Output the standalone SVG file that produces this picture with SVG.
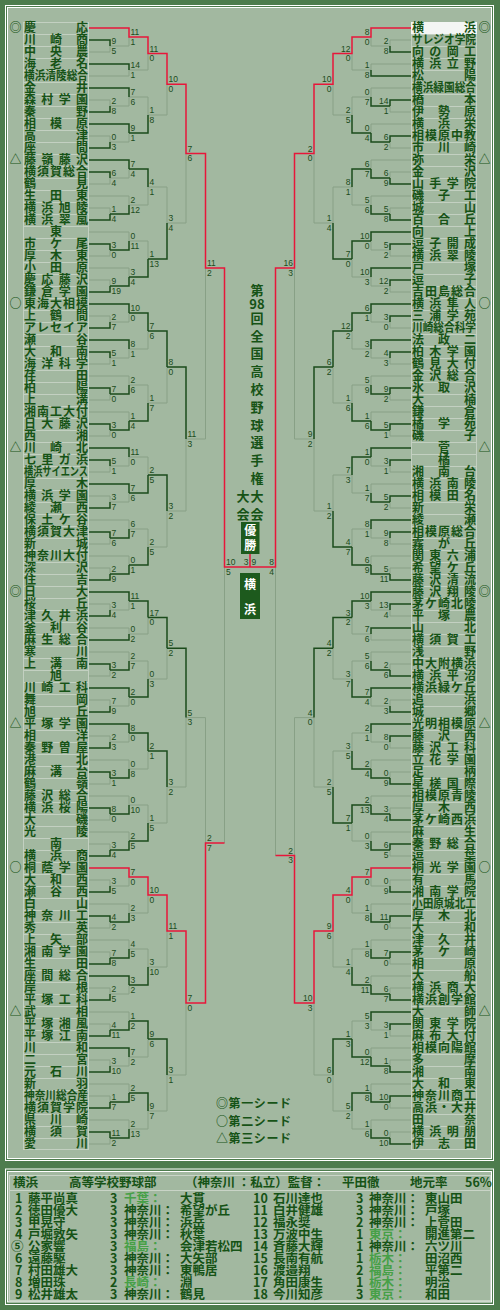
<svg xmlns="http://www.w3.org/2000/svg" width="500" height="1310" viewBox="0 0 500 1310">
<style>
.n{font:bold 12px "Noto Sans CJK JP",sans-serif;fill:#165316}
.c{text-anchor:middle}
.m{font:bold 12px "Noto Sans CJK JP",sans-serif;fill:#165316;text-anchor:middle}
.s{font:8.5px "Liberation Sans",sans-serif;fill:#1b4b1b}
.e{text-anchor:end}
.d{fill:none;stroke:#1b4b1b;stroke-width:1.5}
.g{fill:none;stroke:#88a086;stroke-width:1}
.r{fill:none;stroke:#e8163a;stroke-width:1.5}
.t{font:bold 12.5px "Noto Sans CJK JP",sans-serif;fill:#165316}
.h{fill:#47a047}
.w{font:bold 12px "Noto Sans CJK JP",sans-serif;fill:#ffffff;text-anchor:middle}
.k{font:bold 13px "Noto Sans CJK JP",sans-serif;fill:#165316;text-anchor:middle}
</style>
<defs>
<pattern id="rw" patternUnits="userSpaceOnUse" x="0" y="22" width="500" height="12"><path d="M0 0.5H500" stroke="#c3d0c1" stroke-width="1"/></pattern>
</defs>
<rect width="500" height="1310" fill="#4d7c4d"/>
<rect x="8" y="8" width="483.5" height="1150.5" fill="#a2b8a0"/>
<rect x="5.5" y="5.5" width="488" height="1155" fill="none" stroke="#ffffff"/>
<rect x="7.5" y="7.5" width="484" height="1151" fill="none" stroke="#ffffff"/>
<rect x="8" y="1172" width="483.5" height="130" fill="#a2b8a0"/>
<rect x="5.5" y="1169" width="488" height="135.5" fill="none" stroke="#ffffff"/>
<rect x="7.5" y="1171.5" width="484" height="130.5" fill="none" stroke="#ffffff"/>
<rect x="9.5" y="1175.5" width="481" height="125" fill="none" stroke="#c9d4c7"/>
<path d="M9.5 1190.5H490.5" stroke="#c9d4c7"/>

<rect x="23.5" y="22.5" width="65" height="1127" fill="url(#rw)" stroke="#c3d0c1"/>
<rect x="411.5" y="22.5" width="65" height="1127" fill="url(#rw)" stroke="#c3d0c1"/>

<g id="connectors">
<path class="g" d="M89 52H110V46M89 100H110V106M89 136H110V142M110 46H129V37M89 76H129V70M110 106H129V97M110 142H129V133M129 70H148V53.5M129 97H148V115M148 115H167V84.25M167 223H186V153.6M89 184H110V178M89 208H110V214M89 256H110V250M89 280H110V286M110 178H129V169M89 196H129V205M89 232H129V241M89 268H129V277M129 205H148V187M129 241H148V259M148 187H167V223M89 316H110V322M89 364H110V358M89 400H110V394M89 436H110V430M110 322H129V313M110 358H129V349M89 376H129V385M89 412H129V421M129 349H148V331M129 385H148V403M148 403H167V367M89 472H110V466M89 496H110V502M89 544H110V538M89 568H110V574M110 466H129V457M110 502H129V493M89 520H129V529M89 556H129V565M129 457H148V475M129 529H148V547M148 547H167V511M167 511H186V439M186 439H205.5V268M224.5 843V567M89 604H110V610M89 676H110V670M89 700H110V706M110 610H129V601M89 628H129V634M89 652H129V661M110 706H129V697M129 634H148V617.5M129 661H148V679M148 679H167V648.25M89 736H110V742M89 784H110V778M89 820H110V814M89 844H110V850M110 742H129V733M89 760H129V769M89 796H129V805M89 832H129V841M129 769H148V751M129 805H148V823M148 823H167V787M167 787H186V717.6M186 717.6H205.5V843M89 880H110V886M89 928H110V922M89 952H110V958M89 988H110V994M110 886H129V877M89 904H129V913M89 940H129V949M110 994H129V985M129 913H148V895M129 949H148V967M148 967H167V931M89 1024H110V1030M89 1060H110V1066M89 1096H110V1102M89 1144H110V1138M89 1012H129V1021M110 1066H129V1057M89 1084H129V1093M89 1120H129V1129M129 1057H148V1039M129 1129H148V1111M148 1111H167V1075M167 1075H186V1003"/>
<path class="d" d="M89 40H110V46M89 112H110V106M89 148H110V142M89 64H129V70M89 88H129V97M89 124H129V133M129 133H148V115M89 172H110V178M89 220H110V214M89 244H110V250M89 292H110V286M89 160H129V169M110 214H129V205M110 250H129V241M110 286H129V277M129 169H148V187M129 277H148V259M148 259H167V223M89 328H110V322M89 352H110V358M89 388H110V394M89 424H110V430M89 304H129V313M89 340H129V349M110 394H129V385M110 430H129V421M129 313H148V331M129 421H148V403M148 331H167V367M89 460H110V466M89 508H110V502M89 532H110V538M89 580H110V574M89 448H129V457M89 484H129V493M110 538H129V529M110 574H129V565M129 493H148V475M129 565H148V547M148 475H167V511M167 367H186V439M89 616H110V610M89 664H110V670M89 712H110V706M89 592H129V601M89 640H129V634M110 670H129V661M89 688H129V697M129 601H148V617.5M129 697H148V679M148 617.5H167V648.25M89 748H110V742M89 772H110V778M89 808H110V814M89 856H110V850M89 724H129V733M110 778H129V769M110 814H129V805M110 850H129V841M129 733H148V751M129 841H148V823M148 751H167V787M167 648.25H186V717.6M89 892H110V886M89 916H110V922M89 964H110V958M89 1000H110V994M110 922H129V913M110 958H129V949M89 976H129V985M129 985H148V967M89 1036H110V1030M89 1072H110V1066M89 1108H110V1102M89 1132H110V1138M110 1030H129V1021M89 1048H129V1057M110 1102H129V1093M110 1138H129V1129M129 1021H148V1039M129 1093H148V1111M148 1039H167V1075"/>
<path class="r" d="M89 28H129V37H148V53.5H167V84.25H186V153.6H205.5V268H224.5V567H250M89 868H129V877H148V895H167V931H186V1003H205.5V843H224.5M250 567V554"/>
<g transform="matrix(-1 0 0 1 500 0)">
<path class="g" d="M89 40H110V46M89 112H110V106M89 148H110V142M110 46H129V37M89 64H129V70M89 88H129V97M89 124H129V133M129 70H148V53.5M129 97H148V115M148 115H167V84.25M167 223H186V153.6M89 172H110V178M89 208H110V214M89 256H110V250M89 292H110V286M89 160H129V169M89 196H129V205M110 250H129V241M110 286H129V277M129 205H148V187M129 277H148V259M148 187H167V223M89 328H110V322M89 364H110V358M89 400H110V394M89 436H110V430M110 322H129V313M110 358H129V349M89 376H129V385M89 412H129V421M129 349H148V331M129 385H148V403M148 403H167V367M89 472H110V466M89 508H110V502M89 544H110V538M89 568H110V574M110 466H129V457M89 484H129V493M110 538H129V529M89 556H129V565M129 493H148V475M129 529H148V547M148 475H167V511M167 511H186V439M186 439H205.5V268M224.5 855.6V567M89 616H110V610M89 664H110V670M89 700H110V706M110 610H129V601M89 640H129V634M89 652H129V661M110 706H129V697M129 634H148V617.5M129 661H148V679M148 679H167V648.25M89 748H110V742M89 772H110V778M89 808H110V814M89 856H110V850M110 742H129V733M89 760H129V769M89 796H129V805M89 832H129V841M129 733H148V751M129 841H148V823M148 751H167V787M167 787H186V717.6M186 717.6H205.5V855.6M89 880H110V886M89 928H110V922M89 964H110V958M89 988H110V994M110 886H129V877M89 904H129V913M89 940H129V949M89 976H129V985M129 913H148V895M129 949H148V967M148 967H167V931M89 1036H110V1030M89 1060H110V1066M89 1108H110V1102M89 1132H110V1138M110 1030H129V1021M89 1048H129V1057M89 1084H129V1093M89 1120H129V1129M129 1021H148V1039M129 1129H148V1111M148 1111H167V1075M167 1075H186V1003"/>
<path class="d" d="M89 52H110V46M89 100H110V106M89 136H110V142M89 76H129V70M110 106H129V97M110 142H129V133M129 133H148V115M89 184H110V178M89 220H110V214M89 244H110V250M89 280H110V286M110 178H129V169M110 214H129V205M89 232H129V241M89 268H129V277M129 169H148V187M129 241H148V259M148 259H167V223M89 316H110V322M89 352H110V358M89 388H110V394M89 424H110V430M89 304H129V313M89 340H129V349M110 394H129V385M110 430H129V421M129 313H148V331M129 421H148V403M148 331H167V367M89 460H110V466M89 496H110V502M89 532H110V538M89 580H110V574M89 448H129V457M110 502H129V493M89 520H129V529M110 574H129V565M129 457H148V475M129 565H148V547M148 547H167V511M167 367H186V439M89 604H110V610M89 676H110V670M89 712H110V706M89 592H129V601M89 628H129V634M110 670H129V661M89 688H129V697M129 601H148V617.5M129 697H148V679M148 617.5H167V648.25M89 736H110V742M89 784H110V778M89 820H110V814M89 844H110V850M89 724H129V733M110 778H129V769M110 814H129V805M110 850H129V841M129 769H148V751M129 805H148V823M148 823H167V787M167 648.25H186V717.6M89 892H110V886M89 916H110V922M89 952H110V958M89 1000H110V994M110 922H129V913M110 958H129V949M110 994H129V985M129 985H148V967M89 1024H110V1030M89 1072H110V1066M89 1096H110V1102M89 1144H110V1138M89 1012H129V1021M110 1066H129V1057M110 1102H129V1093M110 1138H129V1129M129 1057H148V1039M129 1093H148V1111M148 1039H167V1075"/>
<path class="r" d="M89 28H129V37H148V53.5H167V84.25H186V153.6H205.5V268H224.5V567H250M89 868H129V877H148V895H167V931H186V1003H205.5V855.6H224.5"/>
</g>
</g>

<g id="scores-left">
<text class="s"><tspan x="111.5" y="44">9</tspan><tspan x="111.5" y="53.5">5</tspan><tspan x="111.5" y="104">2</tspan><tspan x="111.5" y="113.5">8</tspan><tspan x="111.5" y="140">0</tspan><tspan x="111.5" y="149.5">3</tspan><tspan x="111.5" y="176">6</tspan><tspan x="111.5" y="185.5">4</tspan><tspan x="111.5" y="212">1</tspan><tspan x="111.5" y="221.5">4</tspan><tspan x="111.5" y="248">3</tspan><tspan x="111.5" y="257.5">0</tspan><tspan x="111.5" y="284">9</tspan><tspan x="111.5" y="293.5">19</tspan><tspan x="111.5" y="320">2</tspan><tspan x="111.5" y="329.5">7</tspan><tspan x="111.5" y="356">5</tspan><tspan x="111.5" y="365.5">1</tspan><tspan x="111.5" y="392">7</tspan><tspan x="111.5" y="401.5">0</tspan><tspan x="111.5" y="428">3</tspan><tspan x="111.5" y="437.5">0</tspan><tspan x="111.5" y="464">5</tspan><tspan x="111.5" y="473.5">1</tspan><tspan x="111.5" y="500">3</tspan><tspan x="111.5" y="509.5">7</tspan><tspan x="111.5" y="536">7</tspan><tspan x="111.5" y="545.5">6</tspan><tspan x="111.5" y="572">2</tspan><tspan x="111.5" y="581.5">9</tspan><tspan x="111.5" y="608">3</tspan><tspan x="111.5" y="617.5">4</tspan><tspan x="111.5" y="668">3</tspan><tspan x="111.5" y="677.5">2</tspan><tspan x="111.5" y="704">7</tspan><tspan x="111.5" y="713.5">9</tspan><tspan x="111.5" y="740">2</tspan><tspan x="111.5" y="749.5">3</tspan><tspan x="111.5" y="776">3</tspan><tspan x="111.5" y="785.5">1</tspan><tspan x="111.5" y="812">8</tspan><tspan x="111.5" y="821.5">0</tspan><tspan x="111.5" y="848">3</tspan><tspan x="111.5" y="857.5">4</tspan><tspan x="111.5" y="884">3</tspan><tspan x="111.5" y="893.5">5</tspan><tspan x="111.5" y="920">4</tspan><tspan x="111.5" y="929.5">2</tspan><tspan x="111.5" y="956">7</tspan><tspan x="111.5" y="965.5">8</tspan><tspan x="111.5" y="992">2</tspan><tspan x="111.5" y="1001.5">5</tspan><tspan x="111.5" y="1028">4</tspan><tspan x="111.5" y="1037.5">11</tspan><tspan x="111.5" y="1064">3</tspan><tspan x="111.5" y="1073.5">10</tspan><tspan x="111.5" y="1100">1</tspan><tspan x="111.5" y="1109.5">7</tspan><tspan x="111.5" y="1136">11</tspan><tspan x="111.5" y="1145.5">2</tspan></text>
<text class="s"><tspan x="130.5" y="35">11</tspan><tspan x="130.5" y="44.5">1</tspan><tspan x="130.5" y="68">14</tspan><tspan x="130.5" y="77.5">1</tspan><tspan x="130.5" y="95">7</tspan><tspan x="130.5" y="104.5">6</tspan><tspan x="130.5" y="131">9</tspan><tspan x="130.5" y="140.5">1</tspan><tspan x="130.5" y="167">7</tspan><tspan x="130.5" y="176.5">4</tspan><tspan x="130.5" y="203">2</tspan><tspan x="130.5" y="212.5">12</tspan><tspan x="130.5" y="239">0</tspan><tspan x="130.5" y="248.5">11</tspan><tspan x="130.5" y="275">3</tspan><tspan x="130.5" y="284.5">4</tspan><tspan x="130.5" y="311">10</tspan><tspan x="130.5" y="320.5">0</tspan><tspan x="130.5" y="347">8</tspan><tspan x="130.5" y="356.5">1</tspan><tspan x="130.5" y="383">2</tspan><tspan x="130.5" y="392.5">6</tspan><tspan x="130.5" y="419">1</tspan><tspan x="130.5" y="428.5">4</tspan><tspan x="130.5" y="455">11</tspan><tspan x="130.5" y="464.5">0</tspan><tspan x="130.5" y="491">7</tspan><tspan x="130.5" y="500.5">6</tspan><tspan x="130.5" y="527">6</tspan><tspan x="130.5" y="536.5">7</tspan><tspan x="130.5" y="563">0</tspan><tspan x="130.5" y="572.5">1</tspan><tspan x="130.5" y="599">11</tspan><tspan x="130.5" y="608.5">1</tspan><tspan x="130.5" y="632">0</tspan><tspan x="130.5" y="641.5">2</tspan><tspan x="130.5" y="659">2</tspan><tspan x="130.5" y="668.5">7</tspan><tspan x="130.5" y="695">2</tspan><tspan x="130.5" y="704.5">0</tspan><tspan x="130.5" y="731">8</tspan><tspan x="130.5" y="740.5">0</tspan><tspan x="130.5" y="767">0</tspan><tspan x="130.5" y="776.5">8</tspan><tspan x="130.5" y="803">0</tspan><tspan x="130.5" y="812.5">10</tspan><tspan x="130.5" y="839">2</tspan><tspan x="130.5" y="848.5">5</tspan><tspan x="130.5" y="875">7</tspan><tspan x="130.5" y="884.5">0</tspan><tspan x="130.5" y="911">2</tspan><tspan x="130.5" y="920.5">3</tspan><tspan x="130.5" y="947">4</tspan><tspan x="130.5" y="956.5">5</tspan><tspan x="130.5" y="983">3</tspan><tspan x="130.5" y="992.5">2</tspan><tspan x="130.5" y="1019">1</tspan><tspan x="130.5" y="1028.5">2</tspan><tspan x="130.5" y="1055">7</tspan><tspan x="130.5" y="1064.5">2</tspan><tspan x="130.5" y="1091">2</tspan><tspan x="130.5" y="1100.5">5</tspan><tspan x="130.5" y="1127">2</tspan><tspan x="130.5" y="1136.5">13</tspan></text>
<text class="s"><tspan x="149.5" y="51.5">11</tspan><tspan x="149.5" y="61">0</tspan><tspan x="149.5" y="113">1</tspan><tspan x="149.5" y="122.5">8</tspan><tspan x="149.5" y="185">4</tspan><tspan x="149.5" y="194.5">1</tspan><tspan x="149.5" y="257">1</tspan><tspan x="149.5" y="266.5">13</tspan><tspan x="149.5" y="329">7</tspan><tspan x="149.5" y="338.5">6</tspan><tspan x="149.5" y="401">1</tspan><tspan x="149.5" y="410.5">7</tspan><tspan x="149.5" y="473">2</tspan><tspan x="149.5" y="482.5">5</tspan><tspan x="149.5" y="545">2</tspan><tspan x="149.5" y="554.5">5</tspan><tspan x="149.5" y="615.5">17</tspan><tspan x="149.5" y="625">0</tspan><tspan x="149.5" y="677">0</tspan><tspan x="149.5" y="686.5">3</tspan><tspan x="149.5" y="749">2</tspan><tspan x="149.5" y="758.5">1</tspan><tspan x="149.5" y="821">1</tspan><tspan x="149.5" y="830.5">5</tspan><tspan x="149.5" y="893">10</tspan><tspan x="149.5" y="902.5">0</tspan><tspan x="149.5" y="965">3</tspan><tspan x="149.5" y="974.5">10</tspan><tspan x="149.5" y="1037">9</tspan><tspan x="149.5" y="1046.5">6</tspan><tspan x="149.5" y="1109">9</tspan><tspan x="149.5" y="1118.5">7</tspan></text>
<text class="s"><tspan x="168.5" y="82.25">10</tspan><tspan x="168.5" y="91.75">0</tspan><tspan x="168.5" y="221">3</tspan><tspan x="168.5" y="230.5">4</tspan><tspan x="168.5" y="365">8</tspan><tspan x="168.5" y="374.5">0</tspan><tspan x="168.5" y="509">3</tspan><tspan x="168.5" y="518.5">2</tspan><tspan x="168.5" y="646.25">5</tspan><tspan x="168.5" y="655.75">2</tspan><tspan x="168.5" y="785">3</tspan><tspan x="168.5" y="794.5">2</tspan><tspan x="168.5" y="929">11</tspan><tspan x="168.5" y="938.5">1</tspan><tspan x="168.5" y="1073">3</tspan><tspan x="168.5" y="1082.5">1</tspan></text>
<text class="s"><tspan x="187.5" y="151.6">7</tspan><tspan x="187.5" y="161.1">6</tspan><tspan x="187.5" y="437">11</tspan><tspan x="187.5" y="446.5">3</tspan><tspan x="187.5" y="715.6">5</tspan><tspan x="187.5" y="725.1">3</tspan><tspan x="187.5" y="1001">7</tspan><tspan x="187.5" y="1010.5">0</tspan><tspan x="207" y="266">11</tspan><tspan x="207" y="275.5">2</tspan><tspan x="207" y="841">2</tspan><tspan x="207" y="850.5">7</tspan><tspan x="226" y="565">10</tspan><tspan x="226" y="574.5">5</tspan><tspan x="251.5" y="565">9</tspan></text>
<text class="s e" x="248.5" y="565">3</text>
</g>

<g id="scores-right">
<text class="s e"><tspan x="388.5" y="44">2</tspan><tspan x="388.5" y="53.5">8</tspan><tspan x="388.5" y="104">14</tspan><tspan x="388.5" y="113.5">1</tspan><tspan x="388.5" y="140">6</tspan><tspan x="388.5" y="149.5">2</tspan><tspan x="388.5" y="176">6</tspan><tspan x="388.5" y="185.5">9</tspan><tspan x="388.5" y="212">5</tspan><tspan x="388.5" y="221.5">8</tspan><tspan x="388.5" y="248">5</tspan><tspan x="388.5" y="257.5">2</tspan><tspan x="388.5" y="284">12</tspan><tspan x="388.5" y="293.5">2</tspan><tspan x="388.5" y="320">3</tspan><tspan x="388.5" y="329.5">0</tspan><tspan x="388.5" y="356">4</tspan><tspan x="388.5" y="365.5">3</tspan><tspan x="388.5" y="392">9</tspan><tspan x="388.5" y="401.5">2</tspan><tspan x="388.5" y="428">5</tspan><tspan x="388.5" y="437.5">1</tspan><tspan x="388.5" y="464">3</tspan><tspan x="388.5" y="473.5">1</tspan><tspan x="388.5" y="500">5</tspan><tspan x="388.5" y="509.5">2</tspan><tspan x="388.5" y="536">9</tspan><tspan x="388.5" y="545.5">8</tspan><tspan x="388.5" y="572">5</tspan><tspan x="388.5" y="581.5">11</tspan><tspan x="388.5" y="608">13</tspan><tspan x="388.5" y="617.5">4</tspan><tspan x="388.5" y="668">2</tspan><tspan x="388.5" y="677.5">6</tspan><tspan x="388.5" y="704">2</tspan><tspan x="388.5" y="713.5">3</tspan><tspan x="388.5" y="740">8</tspan><tspan x="388.5" y="749.5">0</tspan><tspan x="388.5" y="776">0</tspan><tspan x="388.5" y="785.5">9</tspan><tspan x="388.5" y="812">3</tspan><tspan x="388.5" y="821.5">4</tspan><tspan x="388.5" y="848">6</tspan><tspan x="388.5" y="857.5">5</tspan><tspan x="388.5" y="884">0</tspan><tspan x="388.5" y="893.5">9</tspan><tspan x="388.5" y="920">11</tspan><tspan x="388.5" y="929.5">0</tspan><tspan x="388.5" y="956">7</tspan><tspan x="388.5" y="965.5">0</tspan><tspan x="388.5" y="992">6</tspan><tspan x="388.5" y="1001.5">7</tspan><tspan x="388.5" y="1028">3</tspan><tspan x="388.5" y="1037.5">1</tspan><tspan x="388.5" y="1064">1</tspan><tspan x="388.5" y="1073.5">8</tspan><tspan x="388.5" y="1100">10</tspan><tspan x="388.5" y="1109.5">0</tspan><tspan x="388.5" y="1136">0</tspan><tspan x="388.5" y="1145.5">10</tspan></text>
<text class="s e"><tspan x="369.5" y="35">8</tspan><tspan x="369.5" y="44.5">0</tspan><tspan x="369.5" y="68">1</tspan><tspan x="369.5" y="77.5">8</tspan><tspan x="369.5" y="95">0</tspan><tspan x="369.5" y="104.5">7</tspan><tspan x="369.5" y="131">0</tspan><tspan x="369.5" y="140.5">4</tspan><tspan x="369.5" y="167">6</tspan><tspan x="369.5" y="176.5">7</tspan><tspan x="369.5" y="203">5</tspan><tspan x="369.5" y="212.5">6</tspan><tspan x="369.5" y="239">10</tspan><tspan x="369.5" y="248.5">0</tspan><tspan x="369.5" y="275">10</tspan><tspan x="369.5" y="284.5">3</tspan><tspan x="369.5" y="311">6</tspan><tspan x="369.5" y="320.5">1</tspan><tspan x="369.5" y="347">3</tspan><tspan x="369.5" y="356.5">2</tspan><tspan x="369.5" y="383">5</tspan><tspan x="369.5" y="392.5">9</tspan><tspan x="369.5" y="419">1</tspan><tspan x="369.5" y="428.5">6</tspan><tspan x="369.5" y="455">1</tspan><tspan x="369.5" y="464.5">0</tspan><tspan x="369.5" y="491">1</tspan><tspan x="369.5" y="500.5">7</tspan><tspan x="369.5" y="527">8</tspan><tspan x="369.5" y="536.5">1</tspan><tspan x="369.5" y="563">6</tspan><tspan x="369.5" y="572.5">9</tspan><tspan x="369.5" y="599">10</tspan><tspan x="369.5" y="608.5">3</tspan><tspan x="369.5" y="632">7</tspan><tspan x="369.5" y="641.5">6</tspan><tspan x="369.5" y="659">5</tspan><tspan x="369.5" y="668.5">6</tspan><tspan x="369.5" y="695">7</tspan><tspan x="369.5" y="704.5">4</tspan><tspan x="369.5" y="731">2</tspan><tspan x="369.5" y="740.5">1</tspan><tspan x="369.5" y="767">2</tspan><tspan x="369.5" y="776.5">4</tspan><tspan x="369.5" y="803">2</tspan><tspan x="369.5" y="812.5">13</tspan><tspan x="369.5" y="839">0</tspan><tspan x="369.5" y="848.5">3</tspan><tspan x="369.5" y="875">7</tspan><tspan x="369.5" y="884.5">0</tspan><tspan x="369.5" y="911">1</tspan><tspan x="369.5" y="920.5">8</tspan><tspan x="369.5" y="947">1</tspan><tspan x="369.5" y="956.5">8</tspan><tspan x="369.5" y="983">2</tspan><tspan x="369.5" y="992.5">11</tspan><tspan x="369.5" y="1019">5</tspan><tspan x="369.5" y="1028.5">3</tspan><tspan x="369.5" y="1055">0</tspan><tspan x="369.5" y="1064.5">12</tspan><tspan x="369.5" y="1091">1</tspan><tspan x="369.5" y="1100.5">8</tspan><tspan x="369.5" y="1127">1</tspan><tspan x="369.5" y="1136.5">6</tspan></text>
<text class="s e"><tspan x="350.5" y="51.5">12</tspan><tspan x="350.5" y="61">0</tspan><tspan x="350.5" y="113">2</tspan><tspan x="350.5" y="122.5">5</tspan><tspan x="350.5" y="185">8</tspan><tspan x="350.5" y="194.5">1</tspan><tspan x="350.5" y="257">7</tspan><tspan x="350.5" y="266.5">0</tspan><tspan x="350.5" y="329">12</tspan><tspan x="350.5" y="338.5">2</tspan><tspan x="350.5" y="401">1</tspan><tspan x="350.5" y="410.5">6</tspan><tspan x="350.5" y="473">7</tspan><tspan x="350.5" y="482.5">3</tspan><tspan x="350.5" y="545">4</tspan><tspan x="350.5" y="554.5">7</tspan><tspan x="350.5" y="615.5">3</tspan><tspan x="350.5" y="625">2</tspan><tspan x="350.5" y="677">3</tspan><tspan x="350.5" y="686.5">7</tspan><tspan x="350.5" y="749">3</tspan><tspan x="350.5" y="758.5">5</tspan><tspan x="350.5" y="821">7</tspan><tspan x="350.5" y="830.5">1</tspan><tspan x="350.5" y="893">4</tspan><tspan x="350.5" y="902.5">0</tspan><tspan x="350.5" y="965">1</tspan><tspan x="350.5" y="974.5">4</tspan><tspan x="350.5" y="1037">1</tspan><tspan x="350.5" y="1046.5">3</tspan><tspan x="350.5" y="1109">5</tspan><tspan x="350.5" y="1118.5">2</tspan></text>
<text class="s e"><tspan x="331.5" y="82.25">10</tspan><tspan x="331.5" y="91.75">0</tspan><tspan x="331.5" y="221">1</tspan><tspan x="331.5" y="230.5">4</tspan><tspan x="331.5" y="365">6</tspan><tspan x="331.5" y="374.5">2</tspan><tspan x="331.5" y="509">1</tspan><tspan x="331.5" y="518.5">2</tspan><tspan x="331.5" y="646.25">4</tspan><tspan x="331.5" y="655.75">2</tspan><tspan x="331.5" y="785">2</tspan><tspan x="331.5" y="794.5">5</tspan><tspan x="331.5" y="929">9</tspan><tspan x="331.5" y="938.5">6</tspan><tspan x="331.5" y="1073">6</tspan><tspan x="331.5" y="1082.5">0</tspan></text>
<text class="s e"><tspan x="312.5" y="151.6">2</tspan><tspan x="312.5" y="161.1">0</tspan><tspan x="312.5" y="437">9</tspan><tspan x="312.5" y="446.5">2</tspan><tspan x="312.5" y="715.6">4</tspan><tspan x="312.5" y="725.1">0</tspan><tspan x="312.5" y="1001">10</tspan><tspan x="312.5" y="1010.5">3</tspan><tspan x="293" y="266">16</tspan><tspan x="293" y="275.5">3</tspan><tspan x="293" y="853.6">2</tspan><tspan x="293" y="863.1">3</tspan><tspan x="274" y="565">8</tspan><tspan x="274" y="574.5">4</tspan></text>
</g>

<g id="title">
<text class="k"><tspan x="257" y="294.5">第</tspan><tspan x="257" y="308.5">98</tspan><tspan x="257" y="322.5">回</tspan><tspan x="257" y="340.5">全</tspan><tspan x="257" y="358.3">国</tspan><tspan x="257" y="376.1">高</tspan><tspan x="257" y="393.9">校</tspan><tspan x="257" y="411.7">野</tspan><tspan x="257" y="429.5">球</tspan><tspan x="257" y="447.3">選</tspan><tspan x="257" y="465.1">手</tspan><tspan x="257" y="482.9">権</tspan><tspan x="257" y="500.7">大</tspan><tspan x="257" y="518.5">会</tspan><tspan x="243" y="500.7">大</tspan><tspan x="243" y="518.5">会</tspan></text>
</g>
<g id="winner">
<rect x="241" y="522" width="18.5" height="32" fill="#1d5a1d"/>
<text class="w"><tspan x="250.2" y="535">優</tspan><tspan x="250.2" y="550">勝</tspan></text>
<rect x="240" y="573" width="20" height="46" fill="#1d5a1d"/>
<text class="w"><tspan x="250" y="589">横</tspan><tspan x="250" y="614">浜</tspan></text>
</g>
<g id="legend">
<text class="n" x="216" y="1108" textLength="75">◎第一シード</text>
<text class="n" x="216" y="1125.5" textLength="75">○第二シード</text>
<text class="n" x="216" y="1143" textLength="75">△第三シード</text>
</g>

<g id="left-teams">
<g id="L0"><text class="n" x="24" y="32" textLength="64">慶応</text><text class="m" x="15.5" y="32">◎</text></g>
<g id="L1"><text class="n" x="24" y="44" textLength="64">川崎商</text></g>
<g id="L2"><text class="n" x="24" y="56" textLength="64">中央農</text></g>
<g id="L3"><text class="n" x="24" y="68" textLength="64">海老名</text></g>
<g id="L4"><text class="n" x="24" y="80" textLength="64" lengthAdjust="spacingAndGlyphs">横浜清陵総合</text></g>
<g id="L5"><text class="n" x="24" y="92" textLength="64">金井</text></g>
<g id="L6"><text class="n" x="24" y="104" textLength="64">森村学園</text></g>
<g id="L7"><text class="n" x="24" y="116" textLength="64">秦野</text></g>
<g id="L8"><text class="n" x="24" y="128" textLength="64">相模原</text></g>
<g id="L9"><text class="n" x="24" y="140" textLength="64">高津</text></g>
<g id="L10"><text class="n" x="24" y="152" textLength="64">座間</text></g>
<g id="L11"><text class="n" x="24" y="164" textLength="64">藤嶺藤沢</text><text class="m" x="15.5" y="164">△</text></g>
<g id="L12"><text class="n" x="24" y="176" textLength="64">横須賀総合</text></g>
<g id="L13"><text class="n" x="24" y="188" textLength="64">鶴見</text></g>
<g id="L14"><text class="n" x="24" y="200" textLength="64">生田東</text></g>
<g id="L15"><text class="n" x="24" y="212" textLength="64">横浜旭陵</text></g>
<g id="L16"><text class="n" x="24" y="224" textLength="64">横浜翠嵐</text></g>
<g id="L17"><text class="n c" x="56" y="236">東</text></g>
<g id="L18"><text class="n" x="24" y="248" textLength="64">市ケ尾</text></g>
<g id="L19"><text class="n" x="24" y="260" textLength="64">厚木東</text></g>
<g id="L20"><text class="n" x="24" y="272" textLength="64">小田原</text></g>
<g id="L21"><text class="n" x="24" y="284" textLength="64">慶応藤沢</text></g>
<g id="L22"><text class="n" x="24" y="296" textLength="64">鎌倉学園</text></g>
<g id="L23"><text class="n" x="24" y="308" textLength="64">東海大相模</text><text class="m" x="15.5" y="308">○</text></g>
<g id="L24"><text class="n" x="24" y="320" textLength="64">上鶴間</text></g>
<g id="L25"><text class="n" x="24" y="332" textLength="64">アレセイア</text></g>
<g id="L26"><text class="n" x="24" y="344" textLength="64">瀬谷</text></g>
<g id="L27"><text class="n" x="24" y="356" textLength="64">大和南</text></g>
<g id="L28"><text class="n" x="24" y="368" textLength="64">海洋科学</text></g>
<g id="L29"><text class="n" x="24" y="380" textLength="64">荏田</text></g>
<g id="L30"><text class="n" x="24" y="392" textLength="64">柏陽</text></g>
<g id="L31"><text class="n" x="24" y="404" textLength="64">上溝</text></g>
<g id="L32"><text class="n" x="24" y="416" textLength="64">湘南工大付</text></g>
<g id="L33"><text class="n" x="24" y="428" textLength="64">日大藤沢</text></g>
<g id="L34"><text class="n" x="24" y="440" textLength="64">西湘</text></g>
<g id="L35"><text class="n" x="24" y="452" textLength="64">川崎北</text><text class="m" x="15.5" y="452">△</text></g>
<g id="L36"><text class="n" x="24" y="464" textLength="64">七里ガ浜</text></g>
<g id="L37"><text class="n" x="24" y="476" textLength="64" lengthAdjust="spacingAndGlyphs">横浜サイエンス</text></g>
<g id="L38"><text class="n" x="24" y="488" textLength="64">厚木</text></g>
<g id="L39"><text class="n" x="24" y="500" textLength="64">横浜学園</text></g>
<g id="L40"><text class="n" x="24" y="512" textLength="64">綾瀬西</text></g>
<g id="L41"><text class="n" x="24" y="524" textLength="64">保土ケ谷</text></g>
<g id="L42"><text class="n" x="24" y="536" textLength="64">横須賀大津</text></g>
<g id="L43"><text class="n" x="24" y="548" textLength="64">新城</text></g>
<g id="L44"><text class="n" x="24" y="560" textLength="64">神奈川大付</text></g>
<g id="L45"><text class="n" x="24" y="572" textLength="64">深沢</text></g>
<g id="L46"><text class="n" x="24" y="584" textLength="64">住吉</text></g>
<g id="L47"><text class="n" x="24" y="596" textLength="64">日大</text><text class="m" x="15.5" y="596">◎</text></g>
<g id="L48"><text class="n" x="24" y="608" textLength="64">桜丘</text></g>
<g id="L49"><text class="n" x="24" y="620" textLength="64">津久井浜</text></g>
<g id="L50"><text class="n" x="24" y="632" textLength="64">釜利谷</text></g>
<g id="L51"><text class="n" x="24" y="644" textLength="64">麻生総合</text></g>
<g id="L52"><text class="n" x="24" y="656" textLength="64">寒川</text></g>
<g id="L53"><text class="n" x="24" y="668" textLength="64">上溝南</text></g>
<g id="L54"><text class="n c" x="56" y="680">旭</text></g>
<g id="L55"><text class="n" x="24" y="692" textLength="64">川崎工科</text></g>
<g id="L56"><text class="n" x="24" y="704" textLength="64">舞岡</text></g>
<g id="L57"><text class="n" x="24" y="716" textLength="64">旭丘</text></g>
<g id="L58"><text class="n" x="24" y="728" textLength="64">平塚学園</text><text class="m" x="15.5" y="728">△</text></g>
<g id="L59"><text class="n" x="24" y="740" textLength="64">相洋</text></g>
<g id="L60"><text class="n" x="24" y="752" textLength="64">秦野曽屋</text></g>
<g id="L61"><text class="n" x="24" y="764" textLength="64">港北</text></g>
<g id="L62"><text class="n" x="24" y="776" textLength="64">麻溝台</text></g>
<g id="L63"><text class="n" x="24" y="788" textLength="64">鶴嶺</text></g>
<g id="L64"><text class="n" x="24" y="800" textLength="64">藤沢総合</text></g>
<g id="L65"><text class="n" x="24" y="812" textLength="64">横浜桜陽</text></g>
<g id="L66"><text class="n" x="24" y="824" textLength="64">大磯</text></g>
<g id="L67"><text class="n" x="24" y="836" textLength="64">光陵</text></g>
<g id="L68"><text class="n c" x="56" y="848">南</text></g>
<g id="L69"><text class="n" x="24" y="860" textLength="64">横浜商</text></g>
<g id="L70"><text class="n" x="24" y="872" textLength="64">桐蔭学園</text><text class="m" x="15.5" y="872">○</text></g>
<g id="L71"><text class="n" x="24" y="884" textLength="64">大和西</text></g>
<g id="L72"><text class="n" x="24" y="896" textLength="64">瀬谷西</text></g>
<g id="L73"><text class="n" x="24" y="908" textLength="64">白山</text></g>
<g id="L74"><text class="n" x="24" y="920" textLength="64">神奈川工</text></g>
<g id="L75"><text class="n" x="24" y="932" textLength="64">秀英</text></g>
<g id="L76"><text class="n" x="24" y="944" textLength="64">上矢部</text></g>
<g id="L77"><text class="n" x="24" y="956" textLength="64">湘南学園</text></g>
<g id="L78"><text class="n" x="24" y="968" textLength="64">生田</text></g>
<g id="L79"><text class="n" x="24" y="980" textLength="64">座間総合</text></g>
<g id="L80"><text class="n" x="24" y="992" textLength="64">岸根</text></g>
<g id="L81"><text class="n" x="24" y="1004" textLength="64">平塚工科</text></g>
<g id="L82"><text class="n" x="24" y="1016" textLength="64">武相</text><text class="m" x="15.5" y="1016">△</text></g>
<g id="L83"><text class="n" x="24" y="1028" textLength="64">平塚湘風</text></g>
<g id="L84"><text class="n" x="24" y="1040" textLength="64">平塚江南</text></g>
<g id="L85"><text class="n" x="24" y="1052" textLength="64">川和</text></g>
<g id="L86"><text class="n" x="24" y="1064" textLength="64">二宮</text></g>
<g id="L87"><text class="n" x="24" y="1076" textLength="64">元石川</text></g>
<g id="L88"><text class="n" x="24" y="1088" textLength="64">新羽</text></g>
<g id="L89"><text class="n" x="24" y="1100" textLength="64" lengthAdjust="spacingAndGlyphs">神奈川総合産</text></g>
<g id="L90"><text class="n" x="24" y="1112" textLength="64">横須賀学院</text></g>
<g id="L91"><text class="n" x="24" y="1124" textLength="64">県川崎</text></g>
<g id="L92"><text class="n" x="24" y="1136" textLength="64">横須賀</text></g>
<g id="L93"><text class="n" x="24" y="1148" textLength="64">愛川</text></g>
</g>

<g id="right-teams">
<g id="R0"><rect x="411" y="22" width="66" height="12" fill="#f4f6f4"/><text class="n" x="412" y="32" textLength="64">横浜</text><text class="m" x="484.5" y="32">◎</text></g>
<g id="R1"><text class="n" x="412" y="44" textLength="64" lengthAdjust="spacingAndGlyphs">サレジオ学院</text></g>
<g id="R2"><text class="n" x="412" y="56" textLength="64">向の岡工</text></g>
<g id="R3"><text class="n" x="412" y="68" textLength="64">横浜立野</text></g>
<g id="R4"><text class="n" x="412" y="80" textLength="64">松陽</text></g>
<g id="R5"><text class="n" x="412" y="92" textLength="64" lengthAdjust="spacingAndGlyphs">横浜緑園総合</text></g>
<g id="R6"><text class="n" x="412" y="104" textLength="64">橋本</text></g>
<g id="R7"><text class="n" x="412" y="116" textLength="64">伊勢原</text></g>
<g id="R8"><text class="n" x="412" y="128" textLength="64">横浜栄</text></g>
<g id="R9"><text class="n" x="412" y="140" textLength="64">相模原中教</text></g>
<g id="R10"><text class="n" x="412" y="152" textLength="64">市川崎</text></g>
<g id="R11"><text class="n" x="412" y="164" textLength="64">弥栄</text><text class="m" x="484.5" y="164">△</text></g>
<g id="R12"><text class="n" x="412" y="176" textLength="64">金沢</text></g>
<g id="R13"><text class="n" x="412" y="188" textLength="64">山手学院</text></g>
<g id="R14"><text class="n" x="412" y="200" textLength="64">磯子工</text></g>
<g id="R15"><text class="n" x="412" y="212" textLength="64">城山</text></g>
<g id="R16"><text class="n" x="412" y="224" textLength="64">百合丘</text></g>
<g id="R17"><text class="n" x="412" y="236" textLength="64">向上</text></g>
<g id="R18"><text class="n" x="412" y="248" textLength="64">逗子開成</text></g>
<g id="R19"><text class="n" x="412" y="260" textLength="64">横浜翠陵</text></g>
<g id="R20"><text class="n" x="412" y="272" textLength="64">戸塚</text></g>
<g id="R21"><text class="n" x="412" y="284" textLength="64">逗子</text></g>
<g id="R22"><text class="n" x="412" y="296" textLength="64">吉田島総合</text></g>
<g id="R23"><text class="n" x="412" y="308" textLength="64">横浜隼人</text><text class="m" x="484.5" y="308">○</text></g>
<g id="R24"><text class="n" x="412" y="320" textLength="64">三浦学苑</text></g>
<g id="R25"><text class="n" x="412" y="332" textLength="64" lengthAdjust="spacingAndGlyphs">川崎総合科学</text></g>
<g id="R26"><text class="n" x="412" y="344" textLength="64">法政二</text></g>
<g id="R27"><text class="n" x="412" y="356" textLength="64">柏木学園</text></g>
<g id="R28"><text class="n" x="412" y="368" textLength="64">鶴見大付</text></g>
<g id="R29"><text class="n" x="412" y="380" textLength="64">金沢総合</text></g>
<g id="R30"><text class="n" x="412" y="392" textLength="64">氷取沢</text></g>
<g id="R31"><text class="n" x="412" y="404" textLength="64">大楠</text></g>
<g id="R32"><text class="n" x="412" y="416" textLength="64">鎌倉</text></g>
<g id="R33"><text class="n" x="412" y="428" textLength="64">橘学苑</text></g>
<g id="R34"><text class="n" x="412" y="440" textLength="64">磯子</text></g>
<g id="R35"><text class="n c" x="444" y="452">菅</text><text class="m" x="484.5" y="452">△</text></g>
<g id="R36"><text class="n c" x="444" y="464">橘</text></g>
<g id="R37"><text class="n" x="412" y="476" textLength="64">湘南台</text></g>
<g id="R38"><text class="n" x="412" y="488" textLength="64">横浜南陵</text></g>
<g id="R39"><text class="n" x="412" y="500" textLength="64">相模田名</text></g>
<g id="R40"><text class="n" x="412" y="512" textLength="64">新栄</text></g>
<g id="R41"><text class="n" x="412" y="524" textLength="64">綾瀬</text></g>
<g id="R42"><text class="n" x="412" y="536" textLength="64">相模原総合</text></g>
<g id="R43"><text class="n" x="412" y="548" textLength="64">霧が丘</text></g>
<g id="R44"><text class="n" x="412" y="560" textLength="64">関東六浦</text></g>
<g id="R45"><text class="n" x="412" y="572" textLength="64">希望ケ丘</text></g>
<g id="R46"><text class="n" x="412" y="584" textLength="64">藤沢清流</text></g>
<g id="R47"><text class="n" x="412" y="596" textLength="64">藤沢翔陵</text><text class="m" x="484.5" y="596">◎</text></g>
<g id="R48"><text class="n" x="412" y="608" textLength="64">茅ケ崎北陵</text></g>
<g id="R49"><text class="n" x="412" y="620" textLength="64">平塚農</text></g>
<g id="R50"><text class="n" x="412" y="632" textLength="64">山北</text></g>
<g id="R51"><text class="n" x="412" y="644" textLength="64">横須賀工</text></g>
<g id="R52"><text class="n" x="412" y="656" textLength="64">浅野</text></g>
<g id="R53"><text class="n" x="412" y="668" textLength="64">中大附横浜</text></g>
<g id="R54"><text class="n" x="412" y="680" textLength="64">横浜平沼</text></g>
<g id="R55"><text class="n" x="412" y="692" textLength="64">横浜緑ケ丘</text></g>
<g id="R56"><text class="n" x="412" y="704" textLength="64">追浜</text></g>
<g id="R57"><text class="n" x="412" y="716" textLength="64">城郷</text></g>
<g id="R58"><text class="n" x="412" y="728" textLength="64">光明相模原</text><text class="m" x="484.5" y="728">△</text></g>
<g id="R59"><text class="n" x="412" y="740" textLength="64">藤沢西</text></g>
<g id="R60"><text class="n" x="412" y="752" textLength="64">藤沢工科</text></g>
<g id="R61"><text class="n" x="412" y="764" textLength="64">立花学園</text></g>
<g id="R62"><text class="n" x="412" y="776" textLength="64">足柄</text></g>
<g id="R63"><text class="n" x="412" y="788" textLength="64">星槎国際</text></g>
<g id="R64"><text class="n" x="412" y="800" textLength="64">相模原青陵</text></g>
<g id="R65"><text class="n" x="412" y="812" textLength="64">厚木西</text></g>
<g id="R66"><text class="n" x="412" y="824" textLength="64">茅ケ崎西浜</text></g>
<g id="R67"><text class="n" x="412" y="836" textLength="64">麻生</text></g>
<g id="R68"><text class="n" x="412" y="848" textLength="64">秦野総合</text></g>
<g id="R69"><text class="n" x="412" y="860" textLength="64">逗葉</text></g>
<g id="R70"><text class="n" x="412" y="872" textLength="64">桐光学園</text><text class="m" x="484.5" y="872">○</text></g>
<g id="R71"><text class="n" x="412" y="884" textLength="64">有馬</text></g>
<g id="R72"><text class="n" x="412" y="896" textLength="64">湘南学院</text></g>
<g id="R73"><text class="n" x="412" y="908" textLength="64" lengthAdjust="spacingAndGlyphs">小田原城北工</text></g>
<g id="R74"><text class="n" x="412" y="920" textLength="64">厚木北</text></g>
<g id="R75"><text class="n" x="412" y="932" textLength="64">大和</text></g>
<g id="R76"><text class="n" x="412" y="944" textLength="64">津久井</text></g>
<g id="R77"><text class="n" x="412" y="956" textLength="64">茅ケ崎</text></g>
<g id="R78"><text class="n" x="412" y="968" textLength="64">相原</text></g>
<g id="R79"><text class="n" x="412" y="980" textLength="64">大船</text></g>
<g id="R80"><text class="n" x="412" y="992" textLength="64">横浜商大</text></g>
<g id="R81"><text class="n" x="412" y="1004" textLength="64">横浜創学館</text></g>
<g id="R82"><text class="n" x="412" y="1016" textLength="64">大師</text><text class="m" x="484.5" y="1016">△</text></g>
<g id="R83"><text class="n" x="412" y="1028" textLength="64">関東学院</text></g>
<g id="R84"><text class="n" x="412" y="1040" textLength="64">麻布大付</text></g>
<g id="R85"><text class="n" x="412" y="1052" textLength="64">相模向陽館</text></g>
<g id="R86"><text class="n" x="412" y="1064" textLength="64">多摩</text></g>
<g id="R87"><text class="n" x="412" y="1076" textLength="64">湘南</text></g>
<g id="R88"><text class="n" x="412" y="1088" textLength="64">大和東</text></g>
<g id="R89"><text class="n" x="412" y="1100" textLength="64">神奈川商工</text></g>
<g id="R90"><text class="n" x="412" y="1112" textLength="64">高浜・大井</text></g>
<g id="R91"><text class="n" x="412" y="1124" textLength="64">田奈</text></g>
<g id="R92"><text class="n" x="412" y="1136" textLength="64">横浜明朋</text></g>
<g id="R93"><text class="n" x="412" y="1148" textLength="64">伊志田</text></g>
</g>

<g id="roster">
<text class="t" y="1187"><tspan x="13">横浜</tspan><tspan x="69">高等学校野球部</tspan><tspan x="185">（神奈川 ：私立）監督：</tspan><tspan x="342">平田徹</tspan><tspan x="410">地元率</tspan><tspan x="465">56%</tspan></text>
<text class="t"><tspan x="15" y="1202.5">1</tspan><tspan x="15" y="1214.5">2</tspan><tspan x="15" y="1226.5">3</tspan><tspan x="15" y="1238.5">4</tspan><tspan x="11" y="1250.5">⑤</tspan><tspan x="15" y="1262.5">6</tspan><tspan x="15" y="1274.5">7</tspan><tspan x="15" y="1286.5">8</tspan><tspan x="15" y="1298.5">9</tspan></text>
<text class="t"><tspan x="28" y="1202.5">藤平尚真</tspan><tspan x="28" y="1214.5">徳田優大</tspan><tspan x="28" y="1226.5">甲晃守</tspan><tspan x="28" y="1238.5">戸堀敦矢</tspan><tspan x="28" y="1250.5">公家響</tspan><tspan x="28" y="1262.5">遠藤駆</tspan><tspan x="28" y="1274.5">村田雄大</tspan><tspan x="28" y="1286.5">増田珠</tspan><tspan x="28" y="1298.5">松井雄太</tspan></text>
<text class="t"><tspan x="110" y="1202.5">3</tspan><tspan x="110" y="1214.5">3</tspan><tspan x="110" y="1226.5">3</tspan><tspan x="110" y="1238.5">3</tspan><tspan x="110" y="1250.5">3</tspan><tspan x="110" y="1262.5">3</tspan><tspan x="110" y="1274.5">3</tspan><tspan x="110" y="1286.5">2</tspan><tspan x="110" y="1298.5">3</tspan></text>
<text class="t"><tspan x="124" y="1202.5" class="h">千葉：</tspan><tspan x="124" y="1214.5">神奈川：</tspan><tspan x="124" y="1226.5">神奈川：</tspan><tspan x="124" y="1238.5">神奈川：</tspan><tspan x="124" y="1250.5" class="h">福島：</tspan><tspan x="124" y="1262.5">神奈川：</tspan><tspan x="124" y="1274.5">神奈川：</tspan><tspan x="124" y="1286.5" class="h">長崎：</tspan><tspan x="124" y="1298.5">神奈川：</tspan></text>
<text class="t"><tspan x="180" y="1202.5">大貫</tspan><tspan x="180" y="1214.5">希望が丘</tspan><tspan x="180" y="1226.5">浜岳</tspan><tspan x="180" y="1238.5">秋葉</tspan><tspan x="180" y="1250.5">会津若松四</tspan><tspan x="180" y="1262.5">大矢部</tspan><tspan x="180" y="1274.5">東鴨居</tspan><tspan x="180" y="1286.5">淵</tspan><tspan x="180" y="1298.5">鶴見</tspan></text>
<text class="t"><tspan x="253" y="1202.5">10</tspan><tspan x="253" y="1214.5">11</tspan><tspan x="253" y="1226.5">12</tspan><tspan x="253" y="1238.5">13</tspan><tspan x="253" y="1250.5">14</tspan><tspan x="253" y="1262.5">15</tspan><tspan x="253" y="1274.5">16</tspan><tspan x="253" y="1286.5">17</tspan><tspan x="253" y="1298.5">18</tspan></text>
<text class="t"><tspan x="273" y="1202.5">石川達也</tspan><tspan x="273" y="1214.5">白井健雄</tspan><tspan x="273" y="1226.5">福永奨</tspan><tspan x="273" y="1238.5">万波中生</tspan><tspan x="273" y="1250.5">斉藤大輝</tspan><tspan x="273" y="1262.5">長南有航</tspan><tspan x="273" y="1274.5">渡邉翔</tspan><tspan x="273" y="1286.5">角田康生</tspan><tspan x="273" y="1298.5">今川知彦</tspan></text>
<text class="t"><tspan x="356" y="1202.5">3</tspan><tspan x="356" y="1214.5">3</tspan><tspan x="356" y="1226.5">2</tspan><tspan x="356" y="1238.5">1</tspan><tspan x="356" y="1250.5">1</tspan><tspan x="356" y="1262.5">1</tspan><tspan x="356" y="1274.5">2</tspan><tspan x="356" y="1286.5">1</tspan><tspan x="356" y="1298.5">3</tspan></text>
<text class="t"><tspan x="369" y="1202.5">神奈川：</tspan><tspan x="369" y="1214.5">神奈川：</tspan><tspan x="369" y="1226.5">神奈川：</tspan><tspan x="369" y="1238.5" class="h">東京：</tspan><tspan x="369" y="1250.5">神奈川：</tspan><tspan x="369" y="1262.5" class="h">栃木：</tspan><tspan x="369" y="1274.5" class="h">福島：</tspan><tspan x="369" y="1286.5" class="h">栃木：</tspan><tspan x="369" y="1298.5" class="h">東京：</tspan></text>
<text class="t"><tspan x="425" y="1202.5">東山田</tspan><tspan x="425" y="1214.5">戸塚</tspan><tspan x="425" y="1226.5">上菅田</tspan><tspan x="425" y="1238.5">開進第二</tspan><tspan x="425" y="1250.5">六ツ川</tspan><tspan x="425" y="1262.5">田沼西</tspan><tspan x="425" y="1274.5">平第二</tspan><tspan x="425" y="1286.5">明治</tspan><tspan x="425" y="1298.5">和田</tspan></text>
</g>
</svg>
